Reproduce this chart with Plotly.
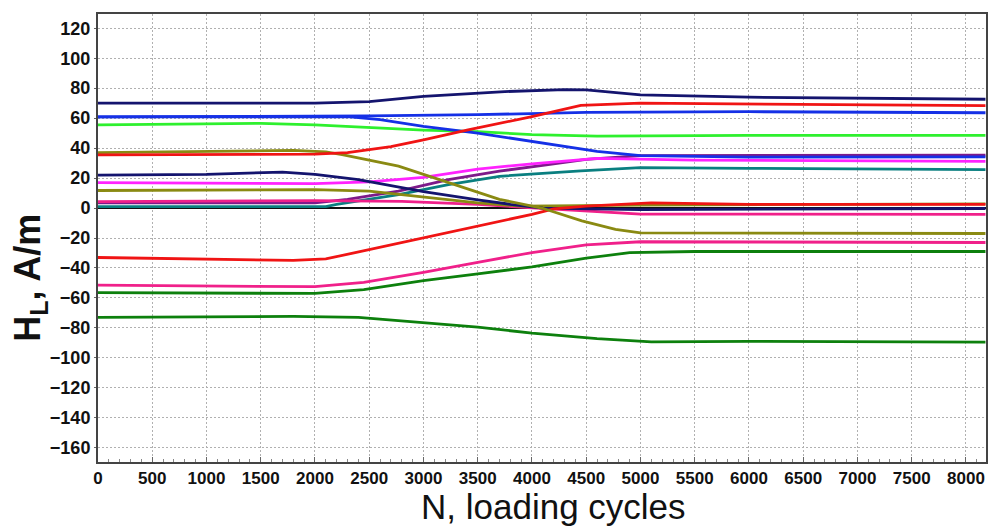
import plotly.graph_objects as go

# Data (N, H_L) keypoints for each curve
navy1_x = [0, 2000, 2500, 3000, 3750, 4300, 4500, 5000, 6000, 8180]
navy1_y = [70, 70, 71, 74.5, 77.7, 79, 78.8, 75.5, 74, 72.6]

blue1_x = [0, 2500, 3500, 4500, 6000, 8180]
blue1_y = [60.8, 61.5, 62.3, 63.8, 64.3, 63.6]

blue2_x = [0, 2300, 2600, 3000, 3500, 4000, 4600, 5000, 6000, 8180]
blue2_y = [60.8, 61, 59, 54.5, 50, 44.5, 37.8, 35, 34, 34.2]

lime_x = [0, 1500, 2000, 2500, 3000, 3500, 4000, 4600, 6000, 8180]
lime_y = [55.5, 56.5, 55.5, 53.5, 52, 51, 49, 48, 48.5, 48.5]

olive1_x = [0, 1800, 2100, 2250, 2770, 3230, 3700, 4090, 4460, 4770, 5000, 8180]
olive1_y = [37, 38.5, 37.5, 35.6, 27.9, 16.8, 5.8, 0, -8.6, -14.2, -16.6, -17]

red1_x = [0, 2000, 2300, 2700, 3000, 3400, 4000, 4450, 5000, 6000, 8180]
red1_y = [35.5, 36, 37, 41, 45.5, 52, 61, 68.5, 70, 69.5, 68.3]

navy2_x = [0, 1000, 1700, 2000, 2400, 3000, 3500, 3800, 4100, 5000, 8180]
navy2_y = [22, 22.5, 24, 22.5, 19, 11, 5.5, 2.5, 0, -1, -0.3]

magenta_x = [0, 2000, 2500, 3000, 3500, 4000, 4600, 5500, 8180]
magenta_y = [17, 16.3, 17.5, 20.5, 26, 29.5, 33.2, 32, 31.2]

purple_x = [0, 2000, 2300, 2770, 3230, 3700, 4150, 4500, 5000, 8180]
purple_y = [3.5, 3.5, 5.8, 11.3, 19, 24.6, 29, 32.5, 35, 35.3]

olive2_x = [0, 2000, 2500, 3000, 3500, 3900, 5000, 8180]
olive2_y = [11.7, 12.3, 11.3, 7.5, 3.5, 1.3, 2, 2.8]

pink1_x = [0, 2000, 2800, 3500, 4000, 4500, 5000, 8180]
pink1_y = [4.3, 5, 4.5, 2.4, 0.2, -2, -4, -4.2]

teal_x = [0, 2100, 2200, 2770, 3230, 3700, 4450, 5000, 6000, 8180]
teal_y = [1, 1, 2.4, 9, 15.7, 21.2, 24.8, 27, 26.5, 25.7]

red2_x = [0, 1000, 1800, 2100, 2450, 3000, 3500, 4000, 4200, 4500, 5100, 6000, 8180]
red2_y = [-33, -34, -35, -34, -28.5, -20, -12, -4.2, -0.5, 1.3, 3.5, 2.5, 2.4]

pink2_x = [0, 2000, 2450, 3000, 3500, 4000, 4500, 5000, 8180]
pink2_y = [-51.5, -52.5, -49.6, -43, -36.3, -29.7, -24.6, -22.5, -23]

green2_x = [0, 2000, 2450, 3000, 3500, 4000, 4500, 4900, 5500, 8180]
green2_y = [-56.5, -57, -54.5, -48.5, -44, -39.3, -33.5, -29.8, -29, -29]

green3_x = [0, 1300, 1800, 2400, 2900, 3500, 4000, 4600, 5100, 6000, 8180]
green3_y = [-73, -72.5, -72.3, -73, -76, -79.5, -83.5, -87.2, -89.3, -89, -89.5]

x_ticks = list(range(0, 8001, 500))
y_ticks = list(range(-160, 121, 20))

x_title = "N, loading cycles"
y_title = "<b>H<sub>L</sub>, A/m</b>"

series = [
    (teal_x, teal_y, "#0a7f80"),
    (purple_x, purple_y, "#7d1a8a"),
    (pink1_x, pink1_y, "#f0208a"),
    (olive2_x, olive2_y, "#8a8a12"),
    (magenta_x, magenta_y, "#ff22ff"),
    (navy2_x, navy2_y, "#14146e"),
    (red2_x, red2_y, "#f01414"),
    (pink2_x, pink2_y, "#f0208a"),
    (green2_x, green2_y, "#0d800d"),
    (green3_x, green3_y, "#0d800d"),
    (lime_x, lime_y, "#2ef02e"),
    (blue1_x, blue1_y, "#1530e6"),
    (blue2_x, blue2_y, "#1530e6"),
    (olive1_x, olive1_y, "#8a8a12"),
    (red1_x, red1_y, "#f01414"),
    (navy1_x, navy1_y, "#14146e"),
]

fig = go.Figure()
for xs, ys, c in series:
    fig.add_trace(go.Scatter(x=xs, y=ys, mode="lines",
                             line=dict(color=c, width=2.8),
                             showlegend=False, hoverinfo="skip"))

font_family = "Liberation Sans, Arial, sans-serif"

fig.update_layout(
    width=1000, height=528,
    margin=dict(l=98, r=12, t=12, b=66),
    paper_bgcolor="white", plot_bgcolor="white",
    font=dict(family=font_family, color="#111111"),
    annotations=[
        dict(text=x_title, xref="paper", yref="paper", x=0.513, y=-0.1,
             xanchor="center", yanchor="middle", showarrow=False,
             font=dict(size=35, family=font_family, color="#111111")),
        dict(text=y_title, xref="paper", yref="paper", x=-0.076, y=0.41,
             xanchor="center", yanchor="middle", showarrow=False, textangle=-90,
             font=dict(size=36, family=font_family, color="#111111")),
    ],
)
fig.update_xaxes(
    range=[0, 8185], tickvals=x_ticks,
    tickfont=dict(size=17, family=font_family, color="#111111", weight="bold"),
    showgrid=True, gridcolor="#b0b0b0", griddash="2px,2px", gridwidth=1,
    showline=True, linecolor="#444444", linewidth=2, mirror=True,
    ticks="inside", ticklen=5, tickcolor="#666666",
    minor=dict(dtick=100, ticks="inside", ticklen=3, tickcolor="#888888", showgrid=False),
    zeroline=False,
)
fig.update_yaxes(
    range=[-169.5, 129.5], tickvals=y_ticks,
    tickfont=dict(size=18, family=font_family, color="#111111", weight="bold"),
    showgrid=True, gridcolor="#b0b0b0", griddash="2px,2px", gridwidth=1,
    showline=True, linecolor="#444444", linewidth=2, mirror=True,
    ticks="outside", ticklen=2, tickcolor="#666666",
    zeroline=True, zerolinecolor="#111111", zerolinewidth=1.5,
)

fig.write_html("out.html")
